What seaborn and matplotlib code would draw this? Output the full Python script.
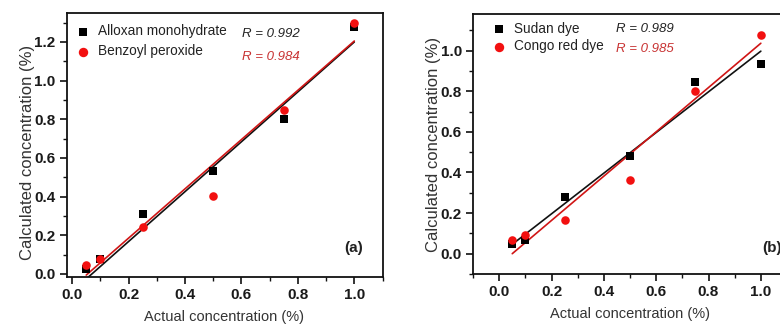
import matplotlib
matplotlib.use("Agg")
import matplotlib.pyplot as plt
from matplotlib.ticker import MultipleLocator, FormatStrFormatter
import seaborn as sns
import pandas as pd

# ---- data ----
actual = [0.05, 0.10, 0.25, 0.50, 0.75, 1.00]
alloxan = [0.025, 0.075, 0.312, 0.533, 0.803, 1.280]
benzoyl = [0.045, 0.078, 0.243, 0.404, 0.846, 1.296]
sudan = [0.049, 0.069, 0.279, 0.479, 0.844, 0.934]
congo = [0.069, 0.093, 0.164, 0.361, 0.803, 1.079]
# linear-fit lines (end points)
fit_x = [0.05, 1.00]
fit_alloxan = [-0.026, 1.200]
fit_benzoyl = [-0.006, 1.205]
fit_sudan = [0.046, 0.997]
fit_congo = [0.000, 1.036]
names_a = ["Alloxan monohydrate", "Benzoyl peroxide"]
names_b = ["Sudan dye", "Congo red dye"]
r_a = ["R = 0.992", "R = 0.984"]
r_b = ["R = 0.989", "R = 0.985"]
xlabel = "Actual concentration (%)"
ylabel = "Calculated concentration (%)"

sns.set_style("ticks")
plt.rcParams["font.family"] = ["Liberation Sans", "DejaVu Sans"]

BLACK = "#000000"
RED = "#f21010"
LINE_RED = "#d01515"
RTEXT_RED = "#c83232"

fig = plt.figure(figsize=(7.8, 3.24), dpi=100)
ax_a = fig.add_axes([66.5/780, 1-277/324, (382.5-66.5)/780, (277-13)/324])
ax_b = fig.add_axes([473/780, 1-274/324, (787-473)/780, (274-14)/324])


def panel(ax, y1, y2, f1, f2, names, ylim, xlim, leg_anchor, lspace,
          ylab_xy):
    df = pd.DataFrame({"x": actual, "y1": y1, "y2": y2})
    dfl = pd.DataFrame({"x": fit_x, "f1": f1, "f2": f2})
    sns.lineplot(data=dfl, x="x", y="f1", ax=ax, color="#111111", lw=1.2,
                 zorder=2)
    sns.lineplot(data=dfl, x="x", y="f2", ax=ax, color=LINE_RED, lw=1.2,
                 zorder=2)
    sns.scatterplot(data=df, x="x", y="y1", ax=ax, marker="s", color=BLACK,
                    s=28, linewidth=0, zorder=3, label=names[0])
    sns.scatterplot(data=df, x="x", y="y2", ax=ax, marker="o", color=RED,
                    s=38, linewidth=0, zorder=4, label=names[1])
    ax.set_xlim(*xlim)
    ax.set_ylim(*ylim)
    ax.xaxis.set_major_locator(MultipleLocator(0.2))
    ax.xaxis.set_minor_locator(MultipleLocator(0.1))
    ax.yaxis.set_major_locator(MultipleLocator(0.2))
    ax.yaxis.set_minor_locator(MultipleLocator(0.1))
    ax.xaxis.set_major_formatter(FormatStrFormatter("%.1f"))
    ax.yaxis.set_major_formatter(FormatStrFormatter("%.1f"))
    ax.tick_params(which="major", direction="out", length=5, width=1.2,
                   labelsize=11, color="#111111", pad=3)
    ax.tick_params(which="minor", direction="out", length=3, width=1.0,
                   color="#111111")
    for lbl in ax.get_xticklabels() + ax.get_yticklabels():
        lbl.set_fontweight("bold")
        lbl.set_color("#1a1a1a")
    for s in ax.spines.values():
        s.set_visible(True)
        s.set_linewidth(1.3)
        s.set_color("#111111")
    ax.set_xlabel(xlabel, fontsize=10.5, color="#333333", labelpad=6)
    ax.set_ylabel(ylabel, fontsize=12, color="#333333")
    ax.yaxis.set_label_coords(*ylab_xy)
    leg = ax.legend(loc="upper left", bbox_to_anchor=leg_anchor,
                    frameon=False, fontsize=9.8, handletextpad=0.6,
                    borderaxespad=0.0, borderpad=0.0, labelspacing=lspace,
                    handlelength=1.0, markerscale=1.1)
    for t in leg.get_texts():
        t.set_color("#222222")
    return ax


panel(ax_a, alloxan, benzoyl, fit_alloxan, fit_benzoyl, names_a,
      (-0.016, 1.35), (-0.02, 1.10), (0.03, 0.958), 0.45, (-0.101, 0.47))
ax_a.text(0.555, 0.922, r_a[0], transform=ax_a.transAxes, fontsize=9.5,
          style="italic", color="#222222", va="center")
ax_a.text(0.555, 0.833, r_a[1], transform=ax_a.transAxes, fontsize=9.5,
          style="italic", color=RTEXT_RED, va="center")
ax_a.text(0.937, 0.11, "(a)", transform=ax_a.transAxes, fontsize=11,
          fontweight="bold", color="#222222", ha="right", va="center")

panel(ax_b, sudan, congo, fit_sudan, fit_congo, names_b,
      (-0.1, 1.18), (-0.1, 1.1), (0.06, 0.97), 0.25, (-0.102, 0.5))
ax_b.text(0.457, 0.942, r_b[0], transform=ax_b.transAxes, fontsize=9.5,
          style="italic", color="#222222", va="center")
ax_b.text(0.457, 0.865, r_b[1], transform=ax_b.transAxes, fontsize=9.5,
          style="italic", color=RTEXT_RED, va="center")
ax_b.text(0.92, 0.10, "(b)", transform=ax_b.transAxes, fontsize=11,
          fontweight="bold", color="#222222", ha="left", va="center")

fig.savefig("out.png", dpi=100)
